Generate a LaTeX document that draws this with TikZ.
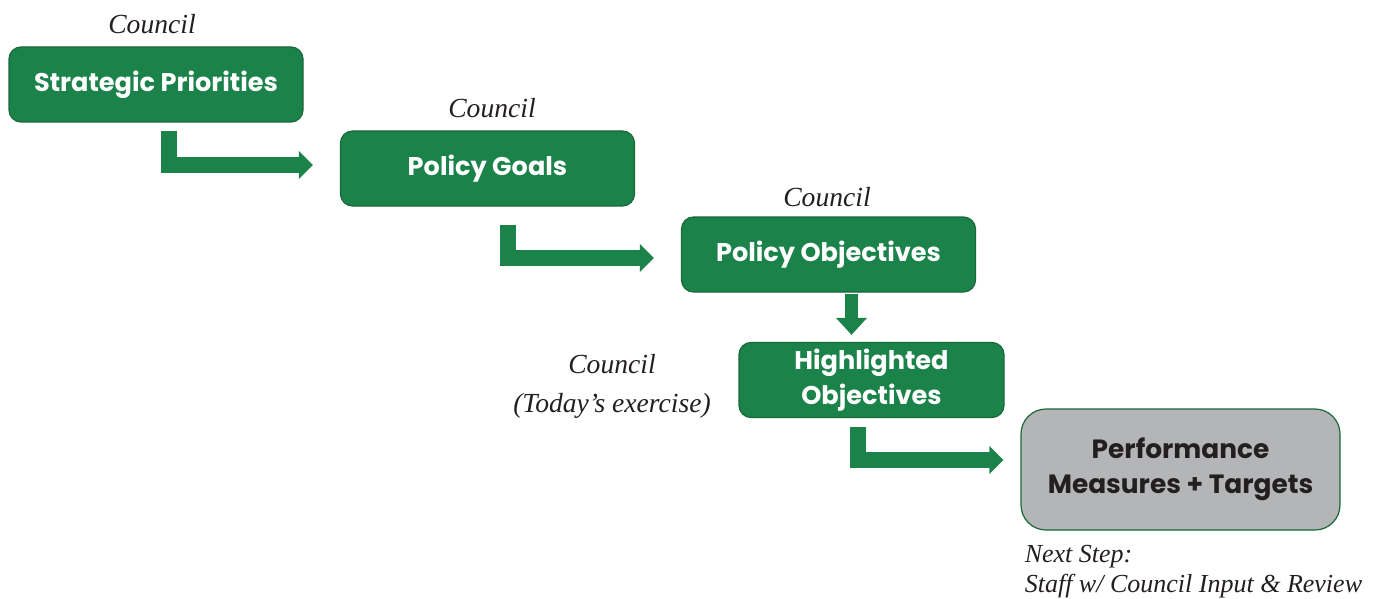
\documentclass[tikz,border=0pt]{standalone}
\usepackage{fontspec}
\setmainfont{Liberation Serif}
\setsansfont{Poppins}
\usepackage{tikz}
\usetikzlibrary{arrows.meta,positioning,calc}

\definecolor{CityGreen}{RGB}{27,130,74}
\definecolor{CityEdge}{RGB}{24,104,58}
\definecolor{CityGray}{RGB}{180,181,183}
\definecolor{TextGray}{RGB}{35,31,32}

\begin{document}
\begin{tikzpicture}[x=0.5pt,y=-0.5pt]
			\tikzstyle{Box}		= [rectangle, rounded corners=6pt, draw=CityEdge, line width=0.6pt, fill=CityGreen, text=white, font=\sffamily\bfseries\fontsize{12.8}{17.5}\selectfont, align=center, minimum width=147pt, minimum height=37.5pt, inner sep=0pt]
			\tikzstyle{Final}	= [Box, rounded corners=12.5pt, fill=CityGray, text=TextGray, font=\sffamily\bfseries\fontsize{13.2}{17.5}\selectfont, minimum width=159.5pt, minimum height=60.5pt]
			\tikzstyle{Note}	= [font=\itshape\fontsize{13.8}{19.5}\selectfont, text=TextGray, inner sep=0pt]
			\tikzstyle{Flow}	= [CityGreen, line width=8pt, -{Triangle[width=13.5pt,length=7pt]}]
			\tikzstyle{Drop}	= [CityGreen, line width=6.5pt, -{Triangle[width=15pt,length=8.5pt]}]

			\useasboundingbox (0,0) rectangle (1382,599);

			\node (sp) at (156,84.5) [Box] {Strategic Priorities};
			\node (pg) at (487.5,168.5) [Box] {Policy Goals};
			\node (po) at (828.5,254.5) [Box] {Policy Objectives};
			\node (ho) at (871.5,380) [Box, minimum width=132.5pt] {Highlighted\\Objectives};
			\node (pm) at (1180.5,469.5) [Final] {Performance\\Measures + Targets};

			\node (c1) at (152,24) [Note] {Council};
			\node (c2) at (492,108) [Note] {Council};
			\node (c3) at (827,197) [Note] {Council};
			\node (c4) at (612,386) [Note, align=center] {Council\\(Today’s exercise)};
			\node (ns) [Note, align=left, font=\itshape\fontsize{13}{15}\selectfont, below right=7pt and 2pt of pm.south west] {Next Step:\\Staff w/ Council Input \& Review};

			\draw [Flow] ($(sp.south west)+(160.5,8)$) |- ($(pg.west)+(-27,-3.5)$);
			\draw [Flow] ($(pg.south west)+(168,18)$) |- ($(po.west)+(-27,3.5)$);
			\draw [Drop] ($(po.south)+(23,1)$) -- ($(ho.north)+(-20,-7)$);
			\draw [Flow] ($(ho.south west)+(120,9)$) |- ($(pm.west)+(-17,-9.5)$);
		\end{tikzpicture}
\end{document}
